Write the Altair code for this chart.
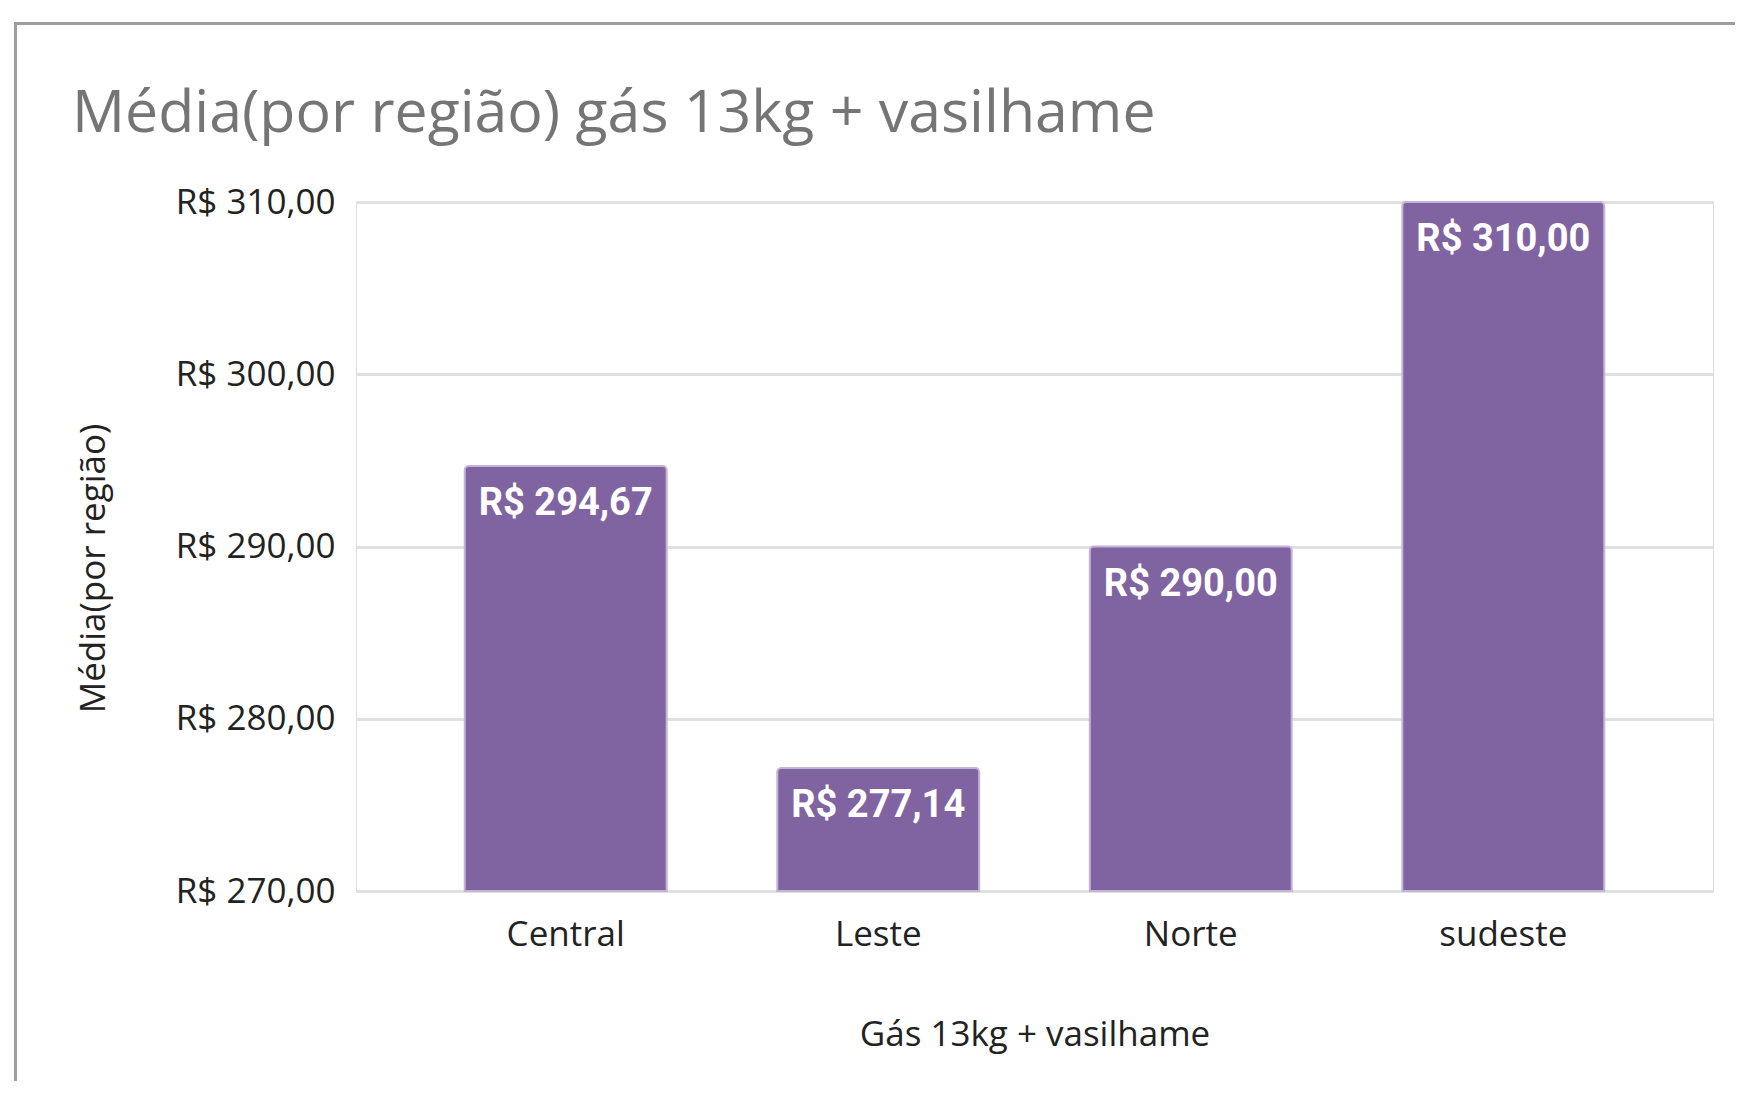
import altair as alt
import pandas as pd

# --- data ---
regions = ["Central", "Leste", "Norte", "sudeste"]
averages = [294.67, 277.14, 290.00, 310.00]
labels = ["R$ 294,67", "R$ 277,14", "R$ 290,00", "R$ 310,00"]
y_ticks = [270, 280, 290, 300, 310]

df = pd.DataFrame({"regiao": regions, "media": averages, "rotulo": labels})
frame_df = pd.DataFrame({"k": [0]})

W, H = 1357, 689
FONT = "Open Sans"

x_enc = alt.X(
    "regiao:N",
    sort=regions,
    scale=alt.Scale(paddingInner=0.354, paddingOuter=0.348),
    axis=alt.Axis(
        title="Gás 13kg + vasilhame",
        titleFont=FONT, titleFontSize=35, titleFontWeight="normal", titleColor="#222222",
        titleX=W / 2, titleY=154, titleBaseline="alphabetic", titleAlign="center",
        labelFont=FONT, labelFontSize=35, labelColor="#222222",
        labelBaseline="alphabetic", labelPadding=54, labelAngle=0,
        ticks=False, tickSize=0, domain=False, grid=False,
    ),
)

y_scale = alt.Scale(domain=[y_ticks[0], y_ticks[-1]], zero=False, nice=False)

bars = alt.Chart(df).mark_bar(
    color="#8064A2",
    stroke="#c2b4d8",
    strokeWidth=2,
    cornerRadiusTopLeft=4,
    cornerRadiusTopRight=4,
).encode(
    x=x_enc,
    y=alt.Y(
        "media:Q",
        scale=y_scale,
        axis=alt.Axis(
            values=y_ticks,
            title="Média(por região)",
            titleFont=FONT, titleFontSize=35, titleFontWeight="normal", titleColor="#222222",
            titleAngle=270, titleX=-263, titleY=366, titleBaseline="middle", titleAlign="center",
            labelFont=FONT, labelFontSize=35, labelColor="#222222",
            labelExpr="'R$ ' + replace(format(datum.value, '.2f'), '.', ',')",
            labelPadding=21, labelBaseline="middle",
            ticks=False, tickSize=0, domain=False,
            grid=True, gridColor="#e0e0e0", gridWidth=3,
        ),
    ),
    y2=alt.datum(y_ticks[0]),
)

text = alt.Chart(df).mark_text(
    font="Roboto", fontSize=38, fontWeight="bold", color="#ffffff",
    baseline="alphabetic", align="center", dy=49,
).encode(
    x=alt.X("regiao:N", sort=regions),
    y=alt.Y("media:Q", scale=y_scale),
    text="rotulo:N",
)

# decorative frame (sheet chart border)
left_border = alt.Chart(frame_df).mark_rule(color="#9e9e9e", strokeWidth=3).encode(
    x=alt.value(-340.5), y=alt.value(-179.5), y2=alt.value(H + 200)
)
top_border = alt.Chart(frame_df).mark_rule(color="#9e9e9e", strokeWidth=3).encode(
    x=alt.value(-342), x2=alt.value(W + 40), y=alt.value(-178.5)
)

chart = alt.layer(bars, text, left_border, top_border).properties(
    width=W,
    height=H,
    title=alt.TitleParams(
        "Média(por região) gás 13kg + vasilhame",
        font=FONT, fontSize=59, fontWeight="normal", color="#757575",
        anchor="start", frame="group", dx=-284, offset=0, dy=170, baseline="alphabetic",
    ),
    autosize=alt.AutoSizeParams(type="none"),
    padding={"left": 348, "top": 194, "right": 22, "bottom": 190},
).configure_view(stroke="transparent", strokeWidth=0).configure(background="white")

chart.save("out.html", embed_options={"renderer": "svg", "actions": False})
